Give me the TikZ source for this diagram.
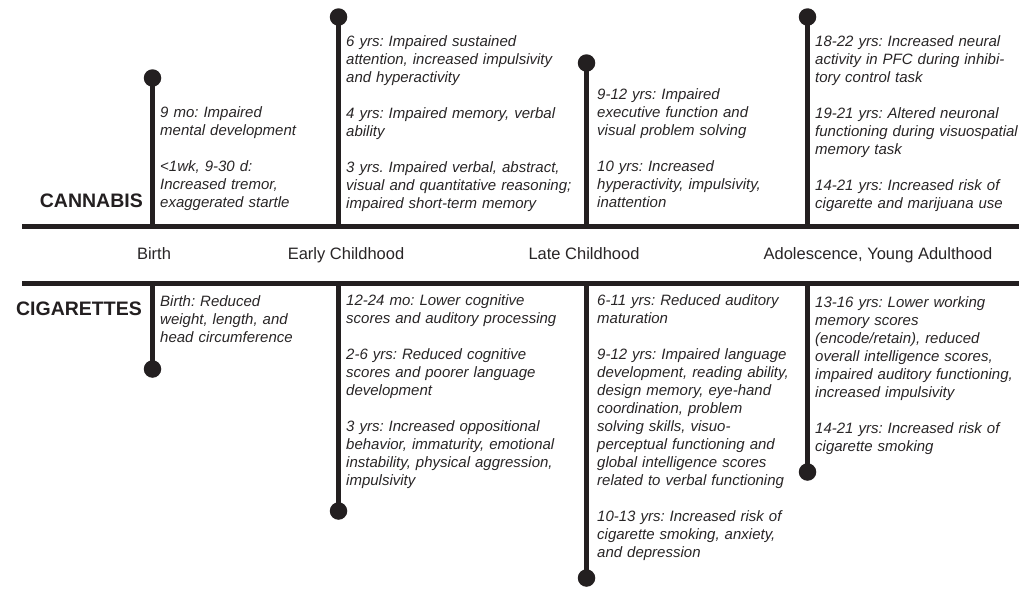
\documentclass[tikz,border=0pt]{standalone}
\usepackage{fontspec}
\setmainfont{Liberation Sans}
\frenchspacing
\definecolor{ink}{RGB}{35,31,32}
\definecolor{txt}{RGB}{40,37,38}
\begin{document}
\begin{tikzpicture}[x=1pt,y=-1pt,
  tl/.style={line width=5pt,draw=ink},
  stem/.style={line width=4.6pt,draw=ink},
  dot/.style={circle,fill=ink,minimum size=17.5pt,inner sep=0pt},
  blk/.style={anchor=base west,inner sep=0pt,text width=240pt,align=left,text=txt,
     font=\fontsize{15}{18}\selectfont\itshape\frenchspacing},
  period/.style={anchor=base,inner sep=0pt,text=txt,font=\fontsize{16.5}{18}\selectfont},
  head/.style={anchor=base east,inner sep=0pt,text=ink,font=\fontsize{19.5}{22}\selectfont\bfseries}]
\useasboundingbox (0,0) rectangle (1019,589);
% main lines
\coordinate (L1) at (22,226); \coordinate (R1) at (1019,226);
\coordinate (L2) at (22,283); \coordinate (R2) at (1019,283);
\draw[tl] (L1) -- (R1);
\draw[tl] (L2) -- (R2);
% junction coordinates
\coordinate (a1) at (152.5,226); \coordinate (a2) at (338.5,226);
\coordinate (a3) at (586.5,226); \coordinate (a4) at (807.5,226);
\coordinate (b1) at (152.5,283); \coordinate (b2) at (338.5,283);
\coordinate (b3) at (586.5,283); \coordinate (b4) at (807.5,283);
% dots
\node[dot] (ca1) at (152.5,78) {};
\node[dot] (ca2) at (338.5,17) {};
\node[dot] (ca3) at (586.5,63) {};
\node[dot] (ca4) at (807.5,17) {};
\node[dot] (ci1) at (152.5,369) {};
\node[dot] (ci2) at (338.5,511) {};
\node[dot] (ci3) at (586.5,578) {};
\node[dot] (ci4) at (807.5,472) {};
% stems
\draw[stem] (ca1.center) -- (a1);
\draw[stem] (ca2.center) -- (a2);
\draw[stem] (ca3.center) -- (a3);
\draw[stem] (ca4.center) -- (a4);
\draw[stem] (ci1.center) -- (b1);
\draw[stem] (ci2.center) -- (b2);
\draw[stem] (ci3.center) -- (b3);
\draw[stem] (ci4.center) -- (b4);
% headings
\node[head] (hc) at (143,207) {CANNABIS};
\node[head] (hg) at (142,315) {CIGARETTES};
% periods
\node[period] (p1) at (154,259) {Birth};
\node[period] (p2) at (346,259) {Early Childhood};
\node[period] (p3) at (584,259) {Late Childhood};
\node[period] (p4) at (878,259) {Adolescence, Young Adulthood};
% cannabis blocks
\node[blk] (t1) at (160,117) {9 mo: Impaired\\mental development\\[18pt]
<1wk, 9-30 d:\\Increased tremor,\\exaggerated startle};
\node[blk] (t2) at (346,46) {6 yrs: Impaired sustained\\attention, increased impulsivity\\and hyperactivity\\[18pt]
4 yrs: Impaired memory, verbal\\ability\\[18pt]
3 yrs. Impaired verbal, abstract,\\visual and quantitative reasoning;\\impaired short-term memory};
\node[blk] (t3) at (597,99) {9-12 yrs: Impaired\\executive function and\\visual problem solving\\[18pt]
10 yrs: Increased\\hyperactivity, impulsivity,\\inattention};
\node[blk] (t4) at (815,46) {18-22 yrs: Increased neural\\activity in PFC during inhibi-\\tory control task\\[18pt]
19-21 yrs: Altered neuronal\\functioning during visuospatial\\memory task\\[18pt]
14-21 yrs: Increased risk of\\cigarette and marijuana use};
% cigarette blocks
\node[blk] (u1) at (160,306) {Birth: Reduced\\weight, length, and\\head circumference};
\node[blk] (u2) at (346,305) {12-24 mo: Lower cognitive\\scores and auditory processing\\[18pt]
2-6 yrs: Reduced cognitive\\scores and poorer language\\development\\[18pt]
3 yrs: Increased oppositional\\behavior, immaturity, emotional\\instability, physical aggression,\\impulsivity};
\node[blk] (u3) at (597,305) {6-11 yrs: Reduced auditory\\maturation\\[18pt]
9-12 yrs: Impaired language\\development, reading ability,\\design memory, eye-hand\\coordination, problem\\solving skills, visuo-\\perceptual functioning and\\global intelligence scores\\related to verbal functioning\\[18pt]
10-13 yrs: Increased risk of\\cigarette smoking, anxiety,\\and depression};
\node[blk] (u4) at (815,307) {13-16 yrs: Lower working\\memory scores\\(encode/retain), reduced\\overall intelligence scores,\\impaired auditory functioning,\\increased impulsivity\\[18pt]
14-21 yrs: Increased risk of\\cigarette smoking};
\end{tikzpicture}
\end{document}
